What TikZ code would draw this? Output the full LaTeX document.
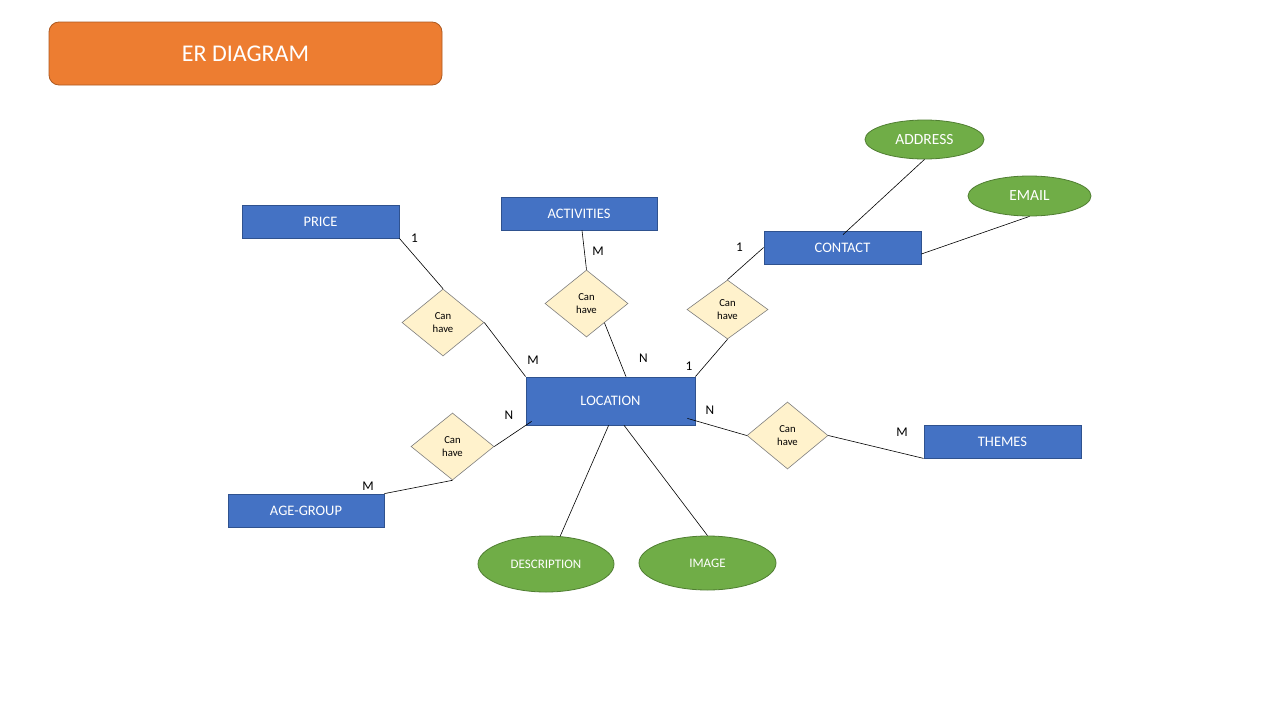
\documentclass[tikz,border=0pt]{standalone}
\usepackage{fontspec}
\setmainfont{Carlito}
\usetikzlibrary{shapes.geometric,calc}

\definecolor{entfill}{HTML}{4472C4}
\definecolor{entborder}{HTML}{2F528F}
\definecolor{relfill}{HTML}{FFF2CC}
\definecolor{relborder}{HTML}{7F7F7F}
\definecolor{attrfill}{HTML}{70AD47}
\definecolor{attrborder}{HTML}{507E32}
\definecolor{titlefill}{HTML}{ED7D31}
\definecolor{titleborder}{HTML}{AE5A21}

\begin{document}
\begin{tikzpicture}[x=1pt,y=-1pt,
  titlebox/.style={draw=titleborder, fill=titlefill, line width=0.8pt,
    rounded corners=10pt, minimum width=393pt, minimum height=63pt,
    inner sep=0pt, text=white, font=\fontsize{24}{28}\selectfont},
  entity/.style={draw=entborder, fill=entfill, line width=0.8pt,
    minimum width=157pt, minimum height=33pt, inner sep=0pt,
    text=white, font=\fontsize{14.5}{17}\selectfont},
  rel/.style={diamond, draw=relborder, fill=relfill, line width=0.6pt,
    minimum width=82pt, minimum height=67pt, inner sep=0pt,
    align=center, font=\fontsize{10.7}{13}\selectfont},
  attr/.style={ellipse, draw=attrborder, fill=attrfill, line width=0.8pt,
    inner sep=0pt, text=white},
  card/.style={inner sep=0pt, font=\fontsize{13.3}{15}\selectfont},
  link/.style={draw=black, line width=0.6pt}]

\useasboundingbox (0,0) rectangle (1280,720);
\fill[white] (0,0) rectangle (1280,720);

% heading
\node[titlebox] (title) at (245.5,53.5) {ER DIAGRAM};

% entities
\node[entity] (price) at (320.5,221.5) {PRICE};
\node[entity, minimum width=156pt] (act) at (579,213.5) {ACTIVITIES};
\node[entity] (contact) at (842.5,247.5) {CONTACT};
\node[entity, minimum width=169pt, minimum height=48pt] (loc) at (610.5,401) {LOCATION};
\node[entity] (themes) at (1002.5,441.5) {THEMES};
\node[entity, minimum width=156pt] (age) at (306,510.5) {AGE-GROUP};

% relationships
\node[rel] (rprice) at (443,322.5) {Can\\have};
\node[rel, minimum width=83pt] (ract) at (586.5,303.5) {Can\\have};
\node[rel, minimum width=81pt, minimum height=59pt] (rcontact) at (727.5,309.5) {Can\\have};
\node[rel, minimum width=83pt] (rage) at (452.5,446.5) {Can\\have};
\node[rel, minimum width=81pt] (rthemes) at (787.5,435.5) {Can\\have};

% attributes
\node[attr, minimum width=119pt, minimum height=39pt, font=\fontsize{15.5}{18}\selectfont] (addr) at (924.5,139.5) {ADDRESS};
\node[attr, minimum width=123pt, minimum height=40pt, font=\fontsize{15.5}{18}\selectfont] (email) at (1029.5,196) {EMAIL};
\node[attr, minimum width=136pt, minimum height=56pt, font=\fontsize{13}{15}\selectfont] (desc) at (546,564) {DESCRIPTION};
\node[attr, minimum width=137pt, minimum height=54pt, font=\fontsize{13}{15}\selectfont] (img) at (707.5,563) {IMAGE};

% connectors
\draw[link] (price.south east) -- (rprice.north);
\draw[link] (rprice.east) -- (loc.north west);
\draw[link] ($(act.south)+(3,0)$) -- (ract.north);
\draw[link] ($(ract.east)!0.57!(ract.south)$) -- ($(loc.north)+(15.5,0)$);
\draw[link] (rcontact.north) -- (contact.west);
\draw[link] (rcontact.south) -- (loc.north east);
\draw[link] ($(contact.north)+(0.5,4)$) -- (addr.south);
\draw[link] ($(contact.east)+(0,6.5)$) -- (email.south);
\draw[link] ($(loc.south west)+(6,-4)$) -- (rage.east);
\draw[link] (rage.south) -- (age.north east);
\draw[link] ($(loc.south east)+(-8,-7)$) -- (rthemes.west);
\draw[link] (rthemes.east) -- (themes.south west);
\draw[link] ($(loc.south west)+(83,0)$) -- (desc.63);
\draw[link] ($(loc.south west)+(98.5,0)$) -- (img.north);

% cardinalities
\node[card] (c1) at (414.5,238) {1};
\node[card] (c2) at (598,251) {M};
\node[card] (c3) at (533,360.5) {M};
\node[card] (c4) at (643.5,358) {N};
\node[card] (c5) at (689,366) {1};
\node[card] (c6) at (739.5,247) {1};
\node[card] (c7) at (509,415) {N};
\node[card] (c8) at (710,410.5) {N};
\node[card] (c9) at (902,432) {M};
\node[card] (c10) at (368,486) {M};
\end{tikzpicture}
\end{document}
